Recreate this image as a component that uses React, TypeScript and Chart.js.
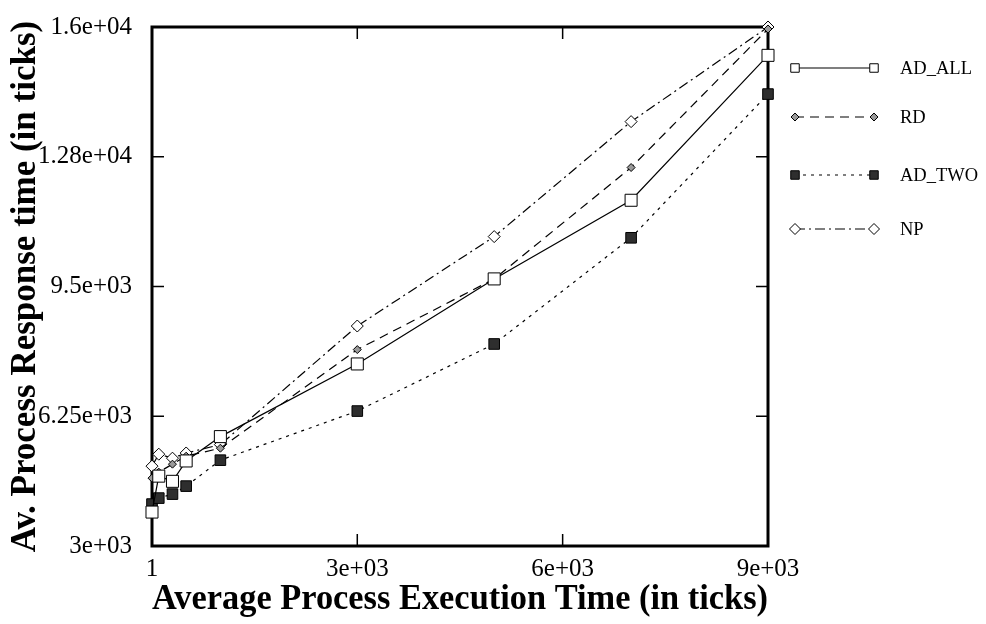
import React, { useEffect, useRef } from 'react';
import { Chart, registerables } from 'chart.js';

Chart.register(...registerables);

// ---- data ----
const xValues = [1, 100, 300, 500, 1000, 3000, 5000, 7000, 9000];
const adAll = [3850, 4750, 4620, 5130, 5740, 7560, 9690, 11660, 15290];
const rd = [4700, 4850, 5050, 5250, 5450, 7920, 9690, 12480, 15950];
const adTwo = [4050, 4200, 4300, 4500, 5150, 6380, 8060, 10720, 14320];
const np = [5000, 5300, 5200, 5330, 5540, 8510, 10750, 13630, 16000];
const seriesNames = ['AD_ALL', 'RD', 'AD_TWO', 'NP'];

const xTickValues = [1, 3000, 6000, 9000];
const xTickLabels = ['1', '3e+03', '6e+03', '9e+03'];
const yTickValues = [3000, 6250, 9500, 12750, 16000];
const yTickLabels = ['3e+03', '6.25e+03', '9.5e+03', '1.28e+04', '1.6e+04'];

const xTitle = 'Average Process Execution Time (in ticks)';
const yTitle = 'Av. Process Response time (in ticks)';

const SERIF = '"Liberation Serif", "Times New Roman", serif';

type Style = { marker: 'rect' | 'rectRot'; r: number; lr: number; fill: string; dash: number[] };
const styles: Style[] = [
  { marker: 'rect', r: 8.5, lr: 6, fill: '#ffffff', dash: [] },
  { marker: 'rectRot', r: 4, lr: 4, fill: '#9a9a9a', dash: [9, 6] },
  { marker: 'rect', r: 7.5, lr: 6, fill: '#2e2e2e', dash: [3, 5] },
  { marker: 'rectRot', r: 6, lr: 5.5, fill: '#ffffff', dash: [10, 4, 2, 4] },
];

function drawMarker(ctx: CanvasRenderingContext2D, s: Style, x: number, y: number, r: number) {
  ctx.save();
  ctx.setLineDash([]);
  ctx.beginPath();
  if (s.marker === 'rect') {
    const h = Math.SQRT1_2 * r;
    ctx.rect(x - h, y - h, 2 * h, 2 * h);
  } else {
    ctx.moveTo(x - r, y);
    ctx.lineTo(x, y - r);
    ctx.lineTo(x + r, y);
    ctx.lineTo(x, y + r);
    ctx.closePath();
  }
  ctx.fillStyle = s.fill;
  ctx.fill();
  ctx.lineWidth = 1;
  ctx.strokeStyle = '#000';
  ctx.stroke();
  ctx.restore();
}

const framePlugin = {
  id: 'frameTicks',
  beforeDatasetsDraw(chart: any) {
    const { ctx, chartArea: a, scales } = chart;
    ctx.save();
    ctx.strokeStyle = '#000';
    ctx.lineWidth = 1.5;
    const tl = 12;
    ctx.beginPath();
    xTickValues.slice(1, -1).forEach((v) => {
      const px = scales.x.getPixelForValue(v);
      ctx.moveTo(px, a.bottom);
      ctx.lineTo(px, a.bottom - tl);
      ctx.moveTo(px, a.top);
      ctx.lineTo(px, a.top + tl);
    });
    yTickValues.slice(1, -1).forEach((v) => {
      const py = scales.y.getPixelForValue(v);
      ctx.moveTo(a.left, py);
      ctx.lineTo(a.left + tl, py);
      ctx.moveTo(a.right, py);
      ctx.lineTo(a.right - tl, py);
    });
    ctx.stroke();
    ctx.lineWidth = 3;
    ctx.strokeRect(a.left, a.top, a.right - a.left, a.bottom - a.top);
    ctx.restore();
  },
};

const legendRows = [68, 117, 175, 229];
const legendPlugin = {
  id: 'sideLegend',
  afterDraw(chart: any) {
    const { ctx } = chart;
    const x1 = 795;
    const x2 = 874;
    const tx = 900;
    ctx.save();
    seriesNames.forEach((name, i) => {
      const s = styles[i];
      const y = legendRows[i];
      ctx.beginPath();
      ctx.setLineDash(s.dash);
      ctx.lineWidth = 1.2;
      ctx.strokeStyle = '#000';
      ctx.moveTo(x1, y);
      ctx.lineTo(x2, y);
      ctx.stroke();
      drawMarker(ctx, s, x1, y, s.lr);
      drawMarker(ctx, s, x2, y, s.lr);
      ctx.setLineDash([]);
      ctx.fillStyle = '#000';
      ctx.font = `18.5px ${SERIF}`;
      ctx.textAlign = 'left';
      ctx.textBaseline = 'middle';
      ctx.fillText(name, tx, y + 1);
    });
    ctx.restore();
  },
};

export default function App() {
  const canvasRef = useRef<HTMLCanvasElement | null>(null);

  useEffect(() => {
    const canvas = canvasRef.current;
    if (!canvas) return;
    const series = [adAll, rd, adTwo, np];
    const datasets = series.map((vals, i) => {
      const s = styles[i];
      return {
        label: seriesNames[i],
        data: xValues.map((x, j) => ({ x, y: vals[j] })),
        borderColor: '#000',
        borderWidth: 1.2,
        borderDash: s.dash,
        backgroundColor: s.fill,
        pointStyle: s.marker,
        pointRadius: s.r,
        pointBackgroundColor: s.fill,
        pointBorderColor: '#000',
        pointBorderWidth: 1,
        tension: 0,
        fill: false,
        clip: false as any,
      };
    });

    const chart = new Chart(canvas, {
      type: 'line',
      data: { datasets },
      plugins: [framePlugin, legendPlugin],
      options: {
        animation: false,
        responsive: true,
        maintainAspectRatio: false,
        layout: { padding: { top: 19, right: 218, left: 0, bottom: 0 } },
        plugins: { legend: { display: false }, tooltip: { enabled: false } },
        scales: {
          x: {
            type: 'linear',
            min: 1,
            max: 9000,
            afterBuildTicks: (scale: any) => {
              scale.ticks = xTickValues.map((v) => ({ value: v }));
            },
            afterFit: (scale: any) => {
              scale.height = 78;
            },
            grid: { display: false },
            border: { display: false },
            ticks: {
              color: '#000',
              font: { family: SERIF, size: 25 },
              padding: 0,
              maxRotation: 0,
              autoSkip: false,
              callback: (_v: any, i: number) => xTickLabels[i],
            },
            title: {
              display: true,
              text: xTitle,
              color: '#000',
              font: { family: SERIF, size: 35, weight: 'bold' },
              padding: { top: 0, bottom: 3 },
            },
          },
          y: {
            type: 'linear',
            min: 3000,
            max: 16000,
            afterBuildTicks: (scale: any) => {
              scale.ticks = yTickValues.map((v) => ({ value: v }));
            },
            afterFit: (scale: any) => {
              scale.width = 152;
            },
            grid: { display: false },
            border: { display: false },
            ticks: {
              color: '#000',
              font: { family: SERIF, size: 25 },
              padding: 12,
              autoSkip: false,
              callback: (_v: any, i: number) => yTickLabels[i],
            },
            title: {
              display: true,
              text: yTitle,
              color: '#000',
              font: { family: SERIF, size: 35, weight: 'bold' },
              padding: { top: 5, bottom: 0 },
            },
          },
        },
      } as any,
    });
    return () => chart.destroy();
  }, []);

  return (
    <div style={{ position: 'fixed', left: 0, top: 0, width: 986, height: 624, background: '#fff' }}>
      <canvas ref={canvasRef} />
    </div>
  );
}
